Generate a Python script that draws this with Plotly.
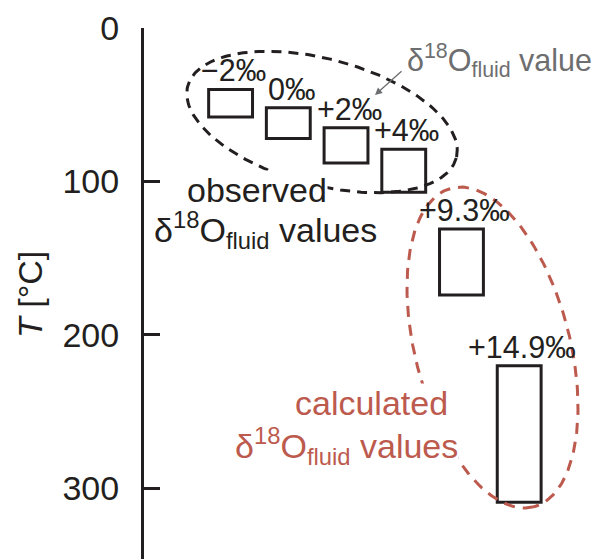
import numpy as np
import plotly.graph_objects as go

# ---- data ----
labels = ["−2‰", "0‰", "+2‰", "+4‰", "+9.3‰", "+14.9‰"]
positions = [1, 2, 3, 4, 5, 6]
t_low = [40, 52, 65, 79, 131, 220]    # upper edge of each box (°C)
t_high = [58, 72, 88, 107, 174, 309]  # lower edge of each box (°C)
y_ticks = [0, 100, 200, 300]

# ---- layout geometry (reference-pixel based; page body adds 8px margin) ----
PAGE = 8
W, H = 600 - PAGE, 559 - PAGE
ML, MT = 144, 28          # plot area corner in page pixels
XR = [-0.5, 7.4]
YR = [346, 0]
pw, ph = 600 - ML, 559 - MT
sx = pw / (XR[1] - XR[0])
sy = ph / (YR[0] - YR[1])

INK = "#231f20"
RED = "#bd5a4e"
GRAY = "#6d6e70"
FONT = "Liberation Sans, Arial, Helvetica, sans-serif"


def px2x(px):
    return XR[0] + (np.asarray(px) - ML) / sx


def py2y(py):
    return (np.asarray(py) - MT) / sy


def ellipse(cx, cy, a, b, ang, n=240):
    t = np.linspace(0, 2 * np.pi, n)
    c, s = np.cos(np.radians(ang)), np.sin(np.radians(ang))
    px = cx + a * np.cos(t) * c - b * np.sin(t) * s
    py = cy + a * np.cos(t) * s + b * np.sin(t) * c
    return px2x(px), py2y(py)


fig = go.Figure()

ex, ey = ellipse(322, 122, 139, 63, 15)
fig.add_trace(go.Scatter(x=ex, y=ey, mode="lines", hoverinfo="skip",
                         line=dict(color=INK, width=3, dash="10px,7px")))
rx, ry = ellipse(492.5, 347.5, 164.5, 77.4, 75.5)
fig.add_trace(go.Scatter(x=rx, y=ry, mode="lines", hoverinfo="skip",
                         line=dict(color=RED, width=3, dash="11px,8px")))

fig.add_trace(go.Bar(
    x=positions,
    y=[h - l for l, h in zip(t_low, t_high)],
    base=t_low,
    width=0.76,
    marker=dict(color="rgba(0,0,0,0)", line=dict(color=INK, width=3)),
    hoverinfo="skip",
))

ann = []
for p, l, lab in zip(positions, t_low, labels):
    ann.append(dict(x=p, y=l, xref="x", yref="y", text=lab, showarrow=False,
                    xanchor="center", yanchor="bottom", xshift=3, yshift=0,
                    font=dict(size=30.5, color=INK, family=FONT)))


def pxp(px):
    return (px - ML) / pw


def pyp(py):
    return 1 - (py - MT) / ph


def txt(px, py, text, size, color, xanchor="center", bg=None, **kw):
    d = dict(x=pxp(px), y=pyp(py), xref="paper", yref="paper", text=text,
             showarrow=False, xanchor=xanchor, yanchor="middle",
             font=dict(size=size, color=color, family=FONT), borderpad=0)
    if bg:
        d["bgcolor"] = bg
    d.update(kw)
    return d


delta = "δ<sup>18</sup>O<sub>fluid</sub>"
ann.append(txt(257, 190, "observed", 34, INK, bg="white"))
ann.append(txt(265, 230, delta + " values", 34, INK, bg="white"))
ann.append(txt(371, 403, "calculated", 34, RED, bg="white"))
ann.append(txt(346, 446, delta + " values", 34, RED, bg="white"))
ann.append(txt(406, 61, delta + " value", 30.5, GRAY, xanchor="left"))
ann.append(txt(30, 295, "<i>T</i> [°C]", 34, INK, textangle=-90))
# arrow
ann.append(dict(x=pxp(375), y=pyp(95), xref="paper", yref="paper", text="",
                showarrow=True, ax=28, ay=-25, arrowhead=2, arrowsize=1.1,
                arrowwidth=1.3, arrowcolor=GRAY))

fig.update_layout(
    width=W, height=H,
    margin=dict(l=ML - PAGE, r=0, t=MT - PAGE, b=0, pad=0, autoexpand=False),
    paper_bgcolor="white", plot_bgcolor="white",
    showlegend=False,
    xaxis=dict(range=XR, visible=False, fixedrange=True, automargin=False),
    yaxis=dict(range=YR, tickvals=y_ticks, ticktext=[str(v) for v in y_ticks],
               showline=True, linewidth=3, linecolor=INK,
               ticks="inside", ticklen=16, tickwidth=3, tickcolor=INK,
               tickfont=dict(size=34, color=INK, family=FONT),
               ticklabelstandoff=15, automargin=False,
               showgrid=False, zeroline=False, fixedrange=True),
    annotations=ann,
    font=dict(family=FONT, color=INK),
)

fig.write_html("out.html")
